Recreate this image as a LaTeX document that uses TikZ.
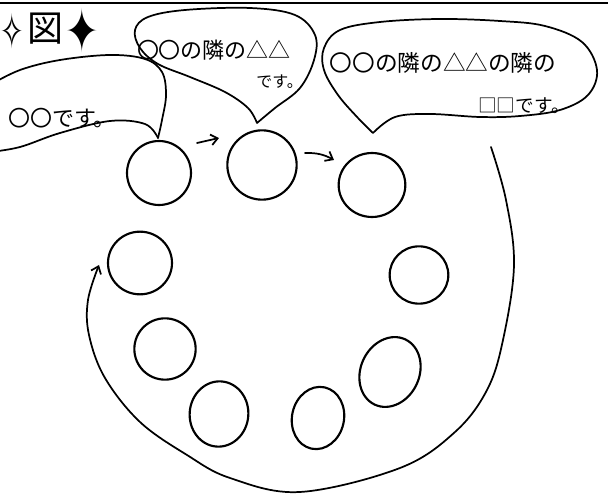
\documentclass[tikz,border=0pt]{standalone}
\usepackage{fontspec}
\newfontfamily\jp{Noto Sans CJK JP}
\newfontfamily\sym{DejaVu Sans}
\usetikzlibrary{shapes.geometric,arrows.meta}
\newcommand{\fsz}[1]{\fontsize{#1}{#1}\selectfont}
\begin{document}
\begin{tikzpicture}[x=0.75pt,y=-0.75pt,
  ring/.style={draw,ellipse,line width=1.6pt,inner sep=0pt},
  stroke/.style={line width=1.3pt,line cap=round,line join=round},
  tip/.style={-{Straight Barb[length=5pt,width=8pt]}},
  say/.style={inner sep=0pt}]
\useasboundingbox (0,0) rectangle (608,502);
\clip (0,0) rectangle (608,502);
\fill[white] (0,0) rectangle (608,502);
% top rule
\draw[line width=1.8pt] (0,3) -- (608,3);
% title
\node[say,font=\sym\fsz{21pt}] (st1) at (12,31) {\scalebox{1}[1.7]{✧}};
\node[say,font=\jp\fsz{27pt}] (zu) at (45,29) {図};
\node[say,font=\sym\fsz{30pt}] (st2) at (82,31) {\scalebox{1}[1.5]{✦}};
% circles
\node[ring,minimum width=48pt,minimum height=48pt] (a) at (159,173) {};
\node[ring,minimum width=52pt,minimum height=52pt] (b) at (262,165) {};
\node[ring,minimum width=50pt,minimum height=48pt] (c) at (372,185) {};
\node[ring,minimum width=48pt,minimum height=47pt] (d) at (140,263) {};
\node[ring,minimum width=44pt,minimum height=43pt] (e) at (419,275) {};
\node[ring,minimum width=46pt,minimum height=46pt] (f) at (165,349) {};
\node[ring,minimum width=44pt,minimum height=49pt,rotate=-5] (g) at (219,414) {};
\node[ring,minimum width=39pt,minimum height=47pt,rotate=-12] (h) at (318,418) {};
\node[ring,minimum width=44pt,minimum height=54pt,rotate=-25] (i) at (390,372) {};
% small arrows
\coordinate (a1s) at (197,143); \coordinate (a1e) at (219,138);
\draw[stroke,tip] (a1s) -- (a1e);
\coordinate (a2s) at (305,153); \coordinate (a2e) at (334,160);
\draw[stroke,tip] (a2s) to[bend left=15] (a2e);
% big loop
\coordinate (ls) at (491,147); \coordinate (lt) at (99,265);
\draw[stroke,tip] plot[smooth,tension=0.6] coordinates {(ls) (506,200) (514,265) (503,340) (487,390) (455,432) (400,468) (300,492) (230,478) (187,455) (140,422) (105,378) (89,335) (88,300) (lt)};
% bubble 1
\coordinate (t1) at (158,138);
\draw[stroke] plot[smooth,tension=0.6] coordinates {(-10,152) (20,147) (60,133) (110,121) (145,124) (t1)};
\draw[stroke] plot[smooth,tension=0.6] coordinates {(t1) (162,120) (166,95) (162,72) (145,59) (110,55) (60,60) (20,70) (-10,85)};
% bubble 2
\coordinate (t2) at (257,123);
\draw[stroke] plot[smooth,tension=0.6] coordinates {(t2) (248,108) (225,92) (190,77) (158,64) (140,48) (135,30) (148,17) (185,10) (250,8) (295,15) (315,35) (314,60) (300,88) (275,108) (t2)};
% bubble 3
\coordinate (t3) at (373,133);
\draw[stroke] plot[smooth,tension=0.6] coordinates {(t3) (358,118) (338,95) (324,70) (324,48) (340,30) (380,22) (440,19) (500,21) (545,26) (582,42) (597,70) (588,95) (560,110) (520,116) (480,117) (430,114) (395,117) (t3)};
% texts
\node[say,font=\jp\fsz{16.5pt}] (s1) at (62,118) {〇〇です。};
\node[say,font=\jp\fsz{16.5pt}] (s2a) at (214,50) {〇〇の隣の△△};
\node[say,font=\jp\fsz{12pt},anchor=east] (s2b) at (303,82) {です。};
\node[say,font=\jp\fsz{17pt}] (s3a) at (443,63) {〇〇の隣の△△の隣の};
\node[say,font=\jp\fsz{14pt}] (s3b) at (524,106) {□□です。};
\end{tikzpicture}
\end{document}
